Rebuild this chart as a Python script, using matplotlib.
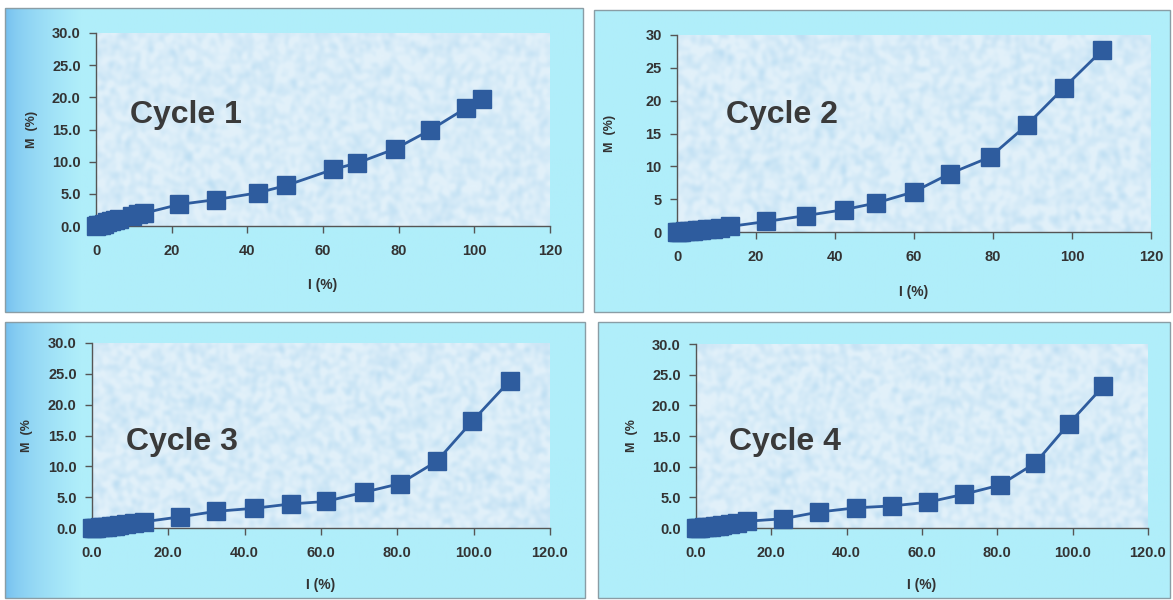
import numpy as np
import matplotlib.pyplot as plt
from matplotlib.patches import Rectangle
from matplotlib.colors import to_rgb

plt.rcParams['font.family'] = ['Liberation Sans', 'DejaVu Sans']
plt.rcParams['font.weight'] = 'bold'

# I (%) vs M (%) for the four loading cycles
I1 = [0, 0.5, 1.2, 2.0, 3.0, 4.0, 5.0, 6.2, 9.5, 11.0, 12.8,
      22.0, 31.7, 42.7, 50.3, 62.7, 69.1, 79.1, 88.3, 97.7, 101.9]
M1 = [0.0, 0.1, 0.2, 0.35, 0.55, 0.75, 0.95, 1.15, 1.6, 1.85, 2.0,
      3.35, 4.1, 5.15, 6.3, 8.8, 9.8, 12.0, 14.9, 18.3, 19.7]

I2 = [0, 0.5, 1.0, 2.0, 3.0, 4.0, 5.0, 6.0, 7.5, 9.0, 11.0, 13.5,
      22.6, 32.6, 42.3, 50.3, 59.9, 69.1, 79.2, 88.6, 98.0, 107.7]
M2 = [0.0, 0.02, 0.05, 0.1, 0.15, 0.2, 0.25, 0.3, 0.4, 0.5, 0.65, 0.85,
      1.6, 2.5, 3.4, 4.4, 6.1, 8.9, 11.4, 16.3, 22.0, 27.7]

I3 = [0, 0.5, 1.0, 2.0, 3.0, 4.0, 5.0, 6.0, 7.0, 9.0, 11.0, 13.5,
      23.0, 32.5, 42.5, 52.1, 61.2, 71.3, 80.7, 90.3, 99.6, 109.5]
M3 = [0.0, 0.02, 0.05, 0.1, 0.15, 0.2, 0.3, 0.35, 0.45, 0.6, 0.8, 1.0,
      1.8, 2.7, 3.2, 3.9, 4.3, 5.8, 7.2, 10.8, 17.3, 23.9]

I4 = [0, 0.5, 1.0, 2.0, 3.0, 4.0, 5.0, 6.0, 7.0, 9.0, 11.0, 13.5,
      23.0, 32.6, 42.6, 52.1, 61.5, 71.1, 80.7, 90.1, 99.0, 108.1]
M4 = [0.0, 0.02, 0.05, 0.1, 0.15, 0.2, 0.3, 0.35, 0.45, 0.65, 0.85, 1.1,
      1.5, 2.6, 3.3, 3.6, 4.2, 5.5, 7.0, 10.6, 17.0, 23.1]

titles = ['Cycle 1', 'Cycle 2', 'Cycle 3', 'Cycle 4']
ylabels = ['M  (%)', 'M  (%)', 'M  (%', 'M  (%']
xfmt = ['{:.0f}', '{:.0f}', '{:.1f}', '{:.1f}']
yfmt = ['{:.1f}', '{:.0f}', '{:.1f}', '{:.1f}']
series = [(I1, M1), (I2, M2), (I3, M3), (I4, M4)]

W, H = 1173, 600

def rect(x0, y0, x1, y1):
    return [x0 / W, 1 - y1 / H, (x1 - x0) / W, (y1 - y0) / H]

# frame boxes and plot areas, in pixels
frames = [(5, 8, 583, 312), (594, 10, 1170, 312),
          (5, 322, 585, 598), (598, 322, 1170, 598)]
plots = [(96, 33, 550, 226), (677, 35, 1151, 232),
         (92, 343, 550, 528), (696, 344, 1148, 528)]
title_pos = [(0.075, 0.575), (0.104, 0.594), (0.074, 0.467), (0.074, 0.467)]
left_shade = [True, False, True, False]

cyan = np.array(to_rgb('#b0eefa'))
edge_blue = np.array(to_rgb('#72bdee'))
spot_light = np.array(to_rgb('#e2f1fa'))
spot_dark = np.array(to_rgb('#bfdff3'))
blue = '#2e5c9e'

# soft mottled fill for the plot areas
rng = np.random.default_rng(7)
def mottle(ny=110, nx=280):
    z = rng.random((ny, nx))
    for _ in range(4):
        z = (z + np.roll(z, 1, 0) + np.roll(z, -1, 0)
             + np.roll(z, 1, 1) + np.roll(z, -1, 1)) / 5
    z = (z - z.min()) / (z.max() - z.min())
    t = np.clip((z - 0.3) * 1.5, 0, 1)[..., None]
    return spot_light * (1 - t) + spot_dark * t

fig = plt.figure(figsize=(11.73, 6), dpi=100)
fig.patch.set_facecolor('white')

for k in range(4):
    # panel background
    bg = fig.add_axes(rect(*frames[k]), zorder=0)
    xs = np.linspace(0, 1, 400)
    if left_shade[k]:
        t = np.clip(xs / 0.13, 0, 1) ** 0.6
    else:
        t = np.ones_like(xs)
    row = edge_blue[None, :] * (1 - t[:, None]) + cyan[None, :] * t[:, None]
    bg.imshow(row[None, :, :], extent=[0, 1, 0, 1], aspect='auto')
    bg.add_patch(Rectangle((0, 0), 1, 1, fill=False, ec='#8a9da5', lw=1.0,
                           transform=bg.transAxes, clip_on=False))
    bg.set_axis_off()

    ax = fig.add_axes(rect(*plots[k]), zorder=2)
    ax.patch.set_visible(False)
    ax.imshow(mottle(), extent=[0, 120, 0, 30], aspect='auto',
              interpolation='bicubic', zorder=0)

    x, y = series[k]
    ax.plot(x, y, color=blue, lw=2, marker='s', ms=12.5,
            mfc=blue, mec=blue, zorder=3, clip_on=False)

    ax.set_xlim(0, 120)
    ax.set_ylim(0, 30)
    xt = np.arange(0, 121, 20)
    yt = np.arange(0, 31, 5)
    ax.set_xticks(xt)
    ax.set_yticks(yt)
    ax.set_xticklabels([xfmt[k].format(v) for v in xt])
    ax.set_yticklabels([yfmt[k].format(v) for v in yt])
    ax.tick_params(axis='both', direction='out', length=5, width=1,
                   color='#555555', labelsize=10.5, labelcolor='#333333')
    ax.tick_params(axis='x', pad=8)
    ax.tick_params(axis='y', pad=6)
    for s in ['top', 'right']:
        ax.spines[s].set_visible(False)
    for s in ['left', 'bottom']:
        ax.spines[s].set_color('#555555')
        ax.spines[s].set_linewidth(1)

    ax.set_xlabel('I (%)', fontsize=10, color='#333333', fontweight='bold')
    ax.set_ylabel(ylabels[k], fontsize=9, color='#333333', fontweight='bold')
    ax.xaxis.set_label_coords(0.5, -0.27)
    ax.yaxis.set_label_coords(-0.128, 0.5)

    ax.text(title_pos[k][0], title_pos[k][1], titles[k], transform=ax.transAxes,
            fontsize=23, fontweight='bold', color='#3a3a3a', va='center',
            ha='left', zorder=4)

fig.savefig('out.png', dpi=100)
